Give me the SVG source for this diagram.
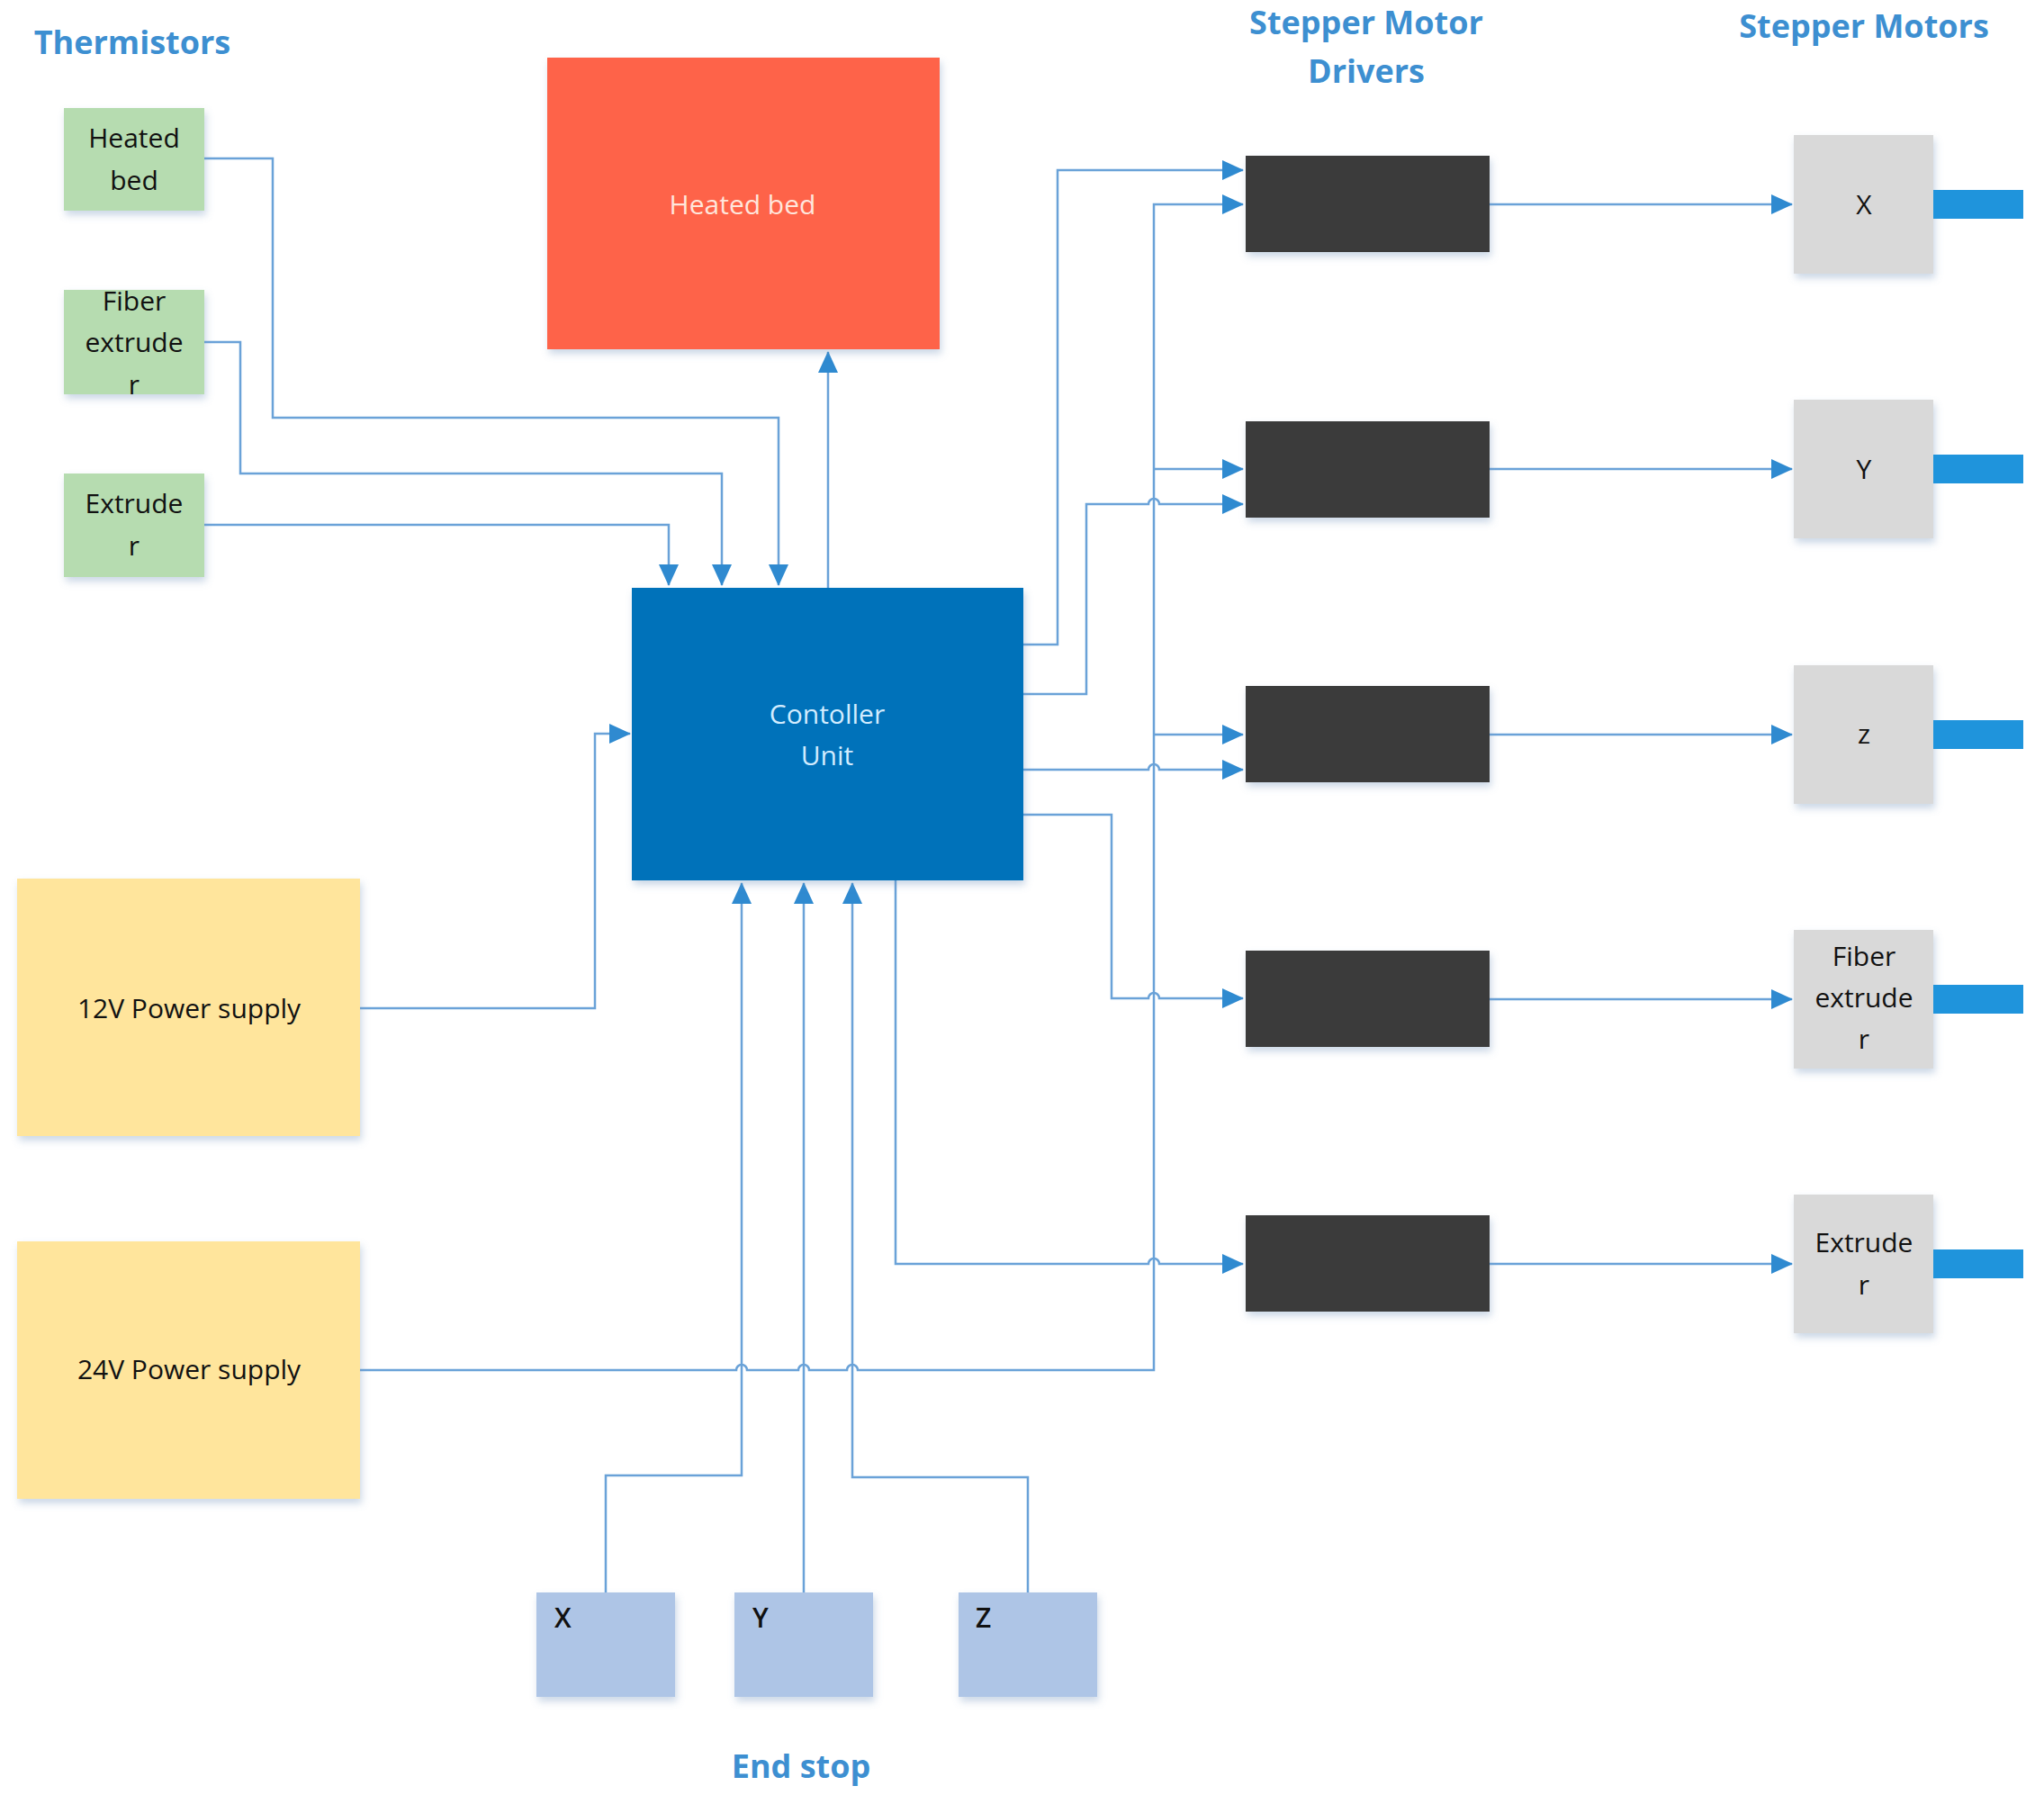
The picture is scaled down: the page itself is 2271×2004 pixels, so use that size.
<svg xmlns="http://www.w3.org/2000/svg" width="2271" height="2004" viewBox="0 0 2271 2004">
<defs>
<filter id="sh" x="-10%" y="-10%" width="130%" height="130%">
<feDropShadow dx="2" dy="5" stdDeviation="4" flood-color="#6a8fb8" flood-opacity="0.35"/>
</filter>
<marker id="ah" markerUnits="userSpaceOnUse" markerWidth="24" markerHeight="22" refX="23" refY="11" orient="auto">
<path d="M0,0 L24,11 L0,22 Z" fill="#2f8ad0"/>
</marker>
</defs>
<style>
.t{font-family:"Open Sans","Noto Sans","Liberation Sans",sans-serif;font-size:30px;text-anchor:middle;fill:#111}
.h{font-family:"Open Sans","Noto Sans","Liberation Sans",sans-serif;font-size:36px;font-weight:700;fill:#3d8fd1;text-anchor:middle}
.c{fill:none;stroke:#6aa2d8;stroke-width:2.5;marker-end:url(#ah)}
.g{fill:#b6dcb0}
.d{fill:#3b3b3b}
.m{fill:#d9d9d9}
.s{fill:#1f94dc}
.e{fill:#aec5e6}
.p{fill:#ffe59c}
</style>
<rect width="2271" height="2004" fill="#fff"/>
<g id="titles">
<text class="h" x="147" y="60">Thermistors</text>
<text class="h" x="1518" y="38">Stepper Motor</text>
<text class="h" x="1518" y="92">Drivers</text>
<text class="h" x="2071" y="42">Stepper Motors</text>
<text class="h" x="890" y="1975">End stop</text>
</g>
<g id="connectors">
<path class="c" d="M227 176 H303 V464 H865 V650"/>
<path class="c" d="M227 380 H267 V526 H802 V650"/>
<path class="c" d="M227 583 H743 V650"/>
<path class="c" d="M920 653 V391"/>
<path class="c" d="M400 1120 H661 V815 H700"/>
<path class="c" d="M400 1522 H818 A6 6 0 0 1 830 1522 H887 A6 6 0 0 1 899 1522 H941 A6 6 0 0 1 953 1522 H1282 V227 H1381"/>
<path class="c" d="M1282 521 H1381"/>
<path class="c" d="M1282 816 H1381"/>
<path class="c" d="M1137 716 H1175 V189 H1381"/>
<path class="c" d="M1137 771 H1207 V560 H1276 A6 6 0 0 1 1288 560 H1381"/>
<path class="c" d="M1137 855 H1276 A6 6 0 0 1 1288 855 H1381"/>
<path class="c" d="M1137 905 H1235 V1109 H1276 A6 6 0 0 1 1288 1109 H1381"/>
<path class="c" d="M995 978 V1404 H1276 A6 6 0 0 1 1288 1404 H1381"/>
<path class="c" d="M673 1769 V1639 H824 V981"/>
<path class="c" d="M893 1769 V981"/>
<path class="c" d="M1142 1769 V1641 H947 V981"/>
<path class="c" d="M1655 227 H1991"/>
<path class="c" d="M1655 521 H1991"/>
<path class="c" d="M1655 816 H1991"/>
<path class="c" d="M1655 1110 H1991"/>
<path class="c" d="M1655 1404 H1991"/>
</g>
<g id="therm-heated-bed"><rect class="g" x="71" y="120" width="156" height="114" filter="url(#sh)"/><text class="t" x="149" y="164">Heated</text><text class="t" x="149" y="211">bed</text></g>
<g id="therm-fiber-extruder"><rect class="g" x="71" y="322" width="156" height="116" filter="url(#sh)"/><text class="t" x="149" y="345">Fiber</text><text class="t" x="149" y="391">extrude</text><text class="t" x="149" y="438">r</text></g>
<g id="therm-extruder"><rect class="g" x="71" y="526" width="156" height="115" filter="url(#sh)"/><text class="t" x="149" y="570">Extrude</text><text class="t" x="149" y="617">r</text></g>
<g id="heated-bed"><rect x="608" y="64" width="436" height="324" fill="#fe634a" filter="url(#sh)"/><text class="t" x="825" y="238" style="fill:#ffe6dc">Heated bed</text></g>
<g id="controller"><rect x="702" y="653" width="435" height="325" fill="#0172ba" filter="url(#sh)"/><text class="t" x="919" y="804" style="fill:#d2ecff">Contoller</text><text class="t" x="919" y="850" style="fill:#d2ecff">Unit</text></g>
<g id="psu-12v"><rect class="p" x="19" y="976" width="381" height="286" filter="url(#sh)"/><text class="t" x="210" y="1131">12V Power supply</text></g>
<g id="psu-24v"><rect class="p" x="19" y="1379" width="381" height="286" filter="url(#sh)"/><text class="t" x="210" y="1532">24V Power supply</text></g>
<g id="driver-1"><rect class="d" x="1384" y="173" width="271" height="107" filter="url(#sh)"/></g>
<g id="driver-2"><rect class="d" x="1384" y="468" width="271" height="107" filter="url(#sh)"/></g>
<g id="driver-3"><rect class="d" x="1384" y="762" width="271" height="107" filter="url(#sh)"/></g>
<g id="driver-4"><rect class="d" x="1384" y="1056" width="271" height="107" filter="url(#sh)"/></g>
<g id="driver-5"><rect class="d" x="1384" y="1350" width="271" height="107" filter="url(#sh)"/></g>
<g id="motor-x"><rect class="m" x="1993" y="150" width="155" height="154" filter="url(#sh)"/><rect class="s" x="2148" y="211" width="100" height="32"/><text class="t" x="2071" y="238">X</text></g>
<g id="motor-y"><rect class="m" x="1993" y="444" width="155" height="154" filter="url(#sh)"/><rect class="s" x="2148" y="505" width="100" height="32"/><text class="t" x="2071" y="532">Y</text></g>
<g id="motor-z"><rect class="m" x="1993" y="739" width="155" height="154" filter="url(#sh)"/><rect class="s" x="2148" y="800" width="100" height="32"/><text class="t" x="2071" y="826">z</text></g>
<g id="motor-fiber-extruder"><rect class="m" x="1993" y="1033" width="155" height="154" filter="url(#sh)"/><rect class="s" x="2148" y="1094" width="100" height="32"/><text class="t" x="2071" y="1073">Fiber</text><text class="t" x="2071" y="1119">extrude</text><text class="t" x="2071" y="1165">r</text></g>
<g id="motor-extruder"><rect class="m" x="1993" y="1327" width="155" height="154" filter="url(#sh)"/><rect class="s" x="2148" y="1388" width="100" height="32"/><text class="t" x="2071" y="1391">Extrude</text><text class="t" x="2071" y="1438">r</text></g>
<g id="endstop-x"><rect class="e" x="596" y="1769" width="154" height="116" filter="url(#sh)"/><text class="t" x="616" y="1808" style="text-anchor:start;font-weight:600">X</text></g>
<g id="endstop-y"><rect class="e" x="816" y="1769" width="154" height="116" filter="url(#sh)"/><text class="t" x="836" y="1808" style="text-anchor:start;font-weight:600">Y</text></g>
<g id="endstop-z"><rect class="e" x="1065" y="1769" width="154" height="116" filter="url(#sh)"/><text class="t" x="1084" y="1808" style="text-anchor:start;font-weight:600">Z</text></g>
</svg>
